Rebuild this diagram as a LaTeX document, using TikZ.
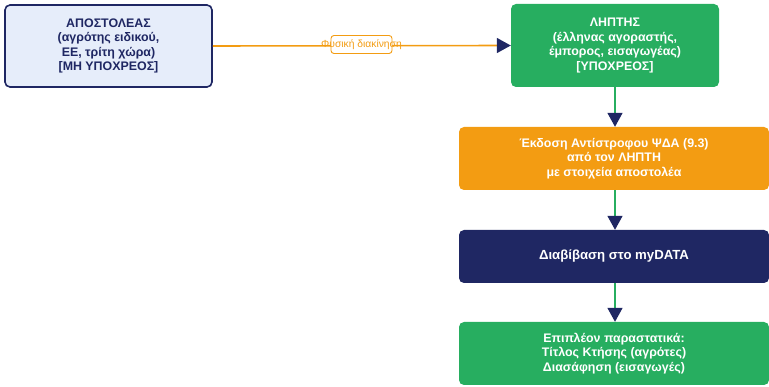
\documentclass[tikz,border=0pt]{standalone}
\usepackage{fontspec}
\setmainfont{Liberation Sans}
\usetikzlibrary{arrows.meta}
\definecolor{navy}{HTML}{1F2763}
\definecolor{lblue}{HTML}{E6EDFA}
\definecolor{mgreen}{HTML}{27AE60}
\definecolor{morange}{HTML}{F39C12}
\tikzset{
  box/.style={rounded corners=5pt, align=center, font=\bfseries\fontsize{12.4}{14.5}\selectfont, inner sep=0pt},
  flow/.style={line width=1.6pt, -{Triangle[length=14pt,width=15pt,fill=navy,color=navy]}},
}
\begin{document}
\begin{tikzpicture}[x=1pt,y=-1pt]
\useasboundingbox (0,0) rectangle (769,387);
\node[box, draw=navy, line width=1.6pt, fill=lblue, text=navy, minimum width=207pt, minimum height=82pt] (snd) at (108.5,46) {ΑΠΟΣΤΟΛΕΑΣ\\(αγρότης ειδικού,\\ΕΕ, τρίτη χώρα)\\{[ΜΗ ΥΠΟΧΡΕΟΣ]}};
\node[box, fill=mgreen, text=white, minimum width=208pt, minimum height=83pt] (rcv) at (615,45.5) {ΛΗΠΤΗΣ\\(έλληνας αγοραστής,\\έμπορος, εισαγωγέας)\\{[ΥΠΟΧΡΕΟΣ]}};
\node[box, fill=morange, text=white, minimum width=310pt, minimum height=63pt] (iss) at (614,158.5) {Έκδοση Αντίστροφου ΨΔΑ (9.3)\\από τον ΛΗΠΤΗ\\με στοιχεία αποστολέα};
\node[box, fill=navy, text=white, minimum width=310pt, minimum height=53pt, font=\bfseries\fontsize{13.2}{15}\selectfont] (tx) at (614,256.5) {Διαβίβαση στο myDATA};
\node[box, fill=mgreen, text=white, minimum width=310pt, minimum height=63pt] (doc) at (614,353.5) {Επιπλέον παραστατικά:\\Τίτλος Κτήσης (αγρότες)\\Διασάφηση (εισαγωγές)};
\draw[flow, color=morange] (snd.east) -- (rcv.west);
\node[draw=morange, fill=white, rounded corners=3pt, line width=0.9pt, minimum width=61pt, minimum height=18pt, inner sep=0pt] (lblbox) at (361.5,44.5) {};
\node[text=morange, font=\fontsize{10.3}{12}\selectfont, inner sep=0pt] (lbl) at (lblbox.center) {Φυσική διακίνηση};
\draw[flow, color=mgreen] (rcv.south) -- (rcv.south |- iss.north);
\draw[flow, color=mgreen] (rcv.south |- iss.south) -- (rcv.south |- tx.north);
\draw[flow, color=mgreen] (rcv.south |- tx.south) -- (rcv.south |- doc.north);
\end{tikzpicture}
\end{document}
